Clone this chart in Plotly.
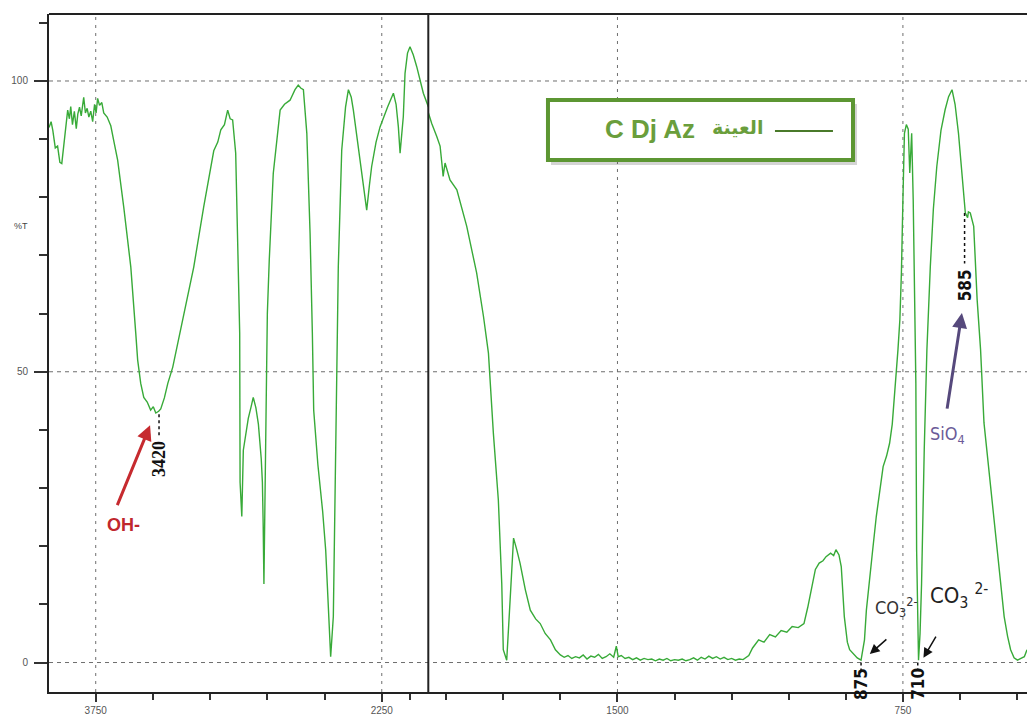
import plotly.graph_objects as go

# ---------------- data ----------------
# Left panel: 4000 - 2000 cm-1 (compressed scale)
LEFT_WN = [3995, 3991, 3984, 3975, 3962, 3950, 3938, 3928, 3918, 3905, 3897, 3888, 3881, 3872,
           3862, 3852, 3844, 3835, 3826, 3813, 3804, 3795, 3786, 3776, 3766, 3756, 3748, 3740,
           3730, 3718, 3708, 3690, 3671, 3654, 3635, 3603, 3566, 3540, 3530, 3514, 3498, 3480,
           3462, 3448, 3435, 3420, 3409, 3390, 3372, 3346, 3320, 3289, 3236, 3184, 3150, 3131,
           3110, 3094, 3075, 3058, 3045, 3032, 3016, 3005, 2995, 2993, 2984, 2976, 2950, 2935,
           2924, 2910, 2897, 2882, 2876, 2872, 2868, 2864, 2860, 2856, 2850, 2840, 2819, 2800,
           2783, 2760, 2731, 2705, 2688, 2675, 2661, 2643, 2626, 2614, 2607, 2585, 2560, 2544,
           2529, 2518, 2504, 2495, 2486, 2478, 2460, 2440, 2425, 2410, 2399, 2380, 2364, 2345,
           2329, 2315, 2303, 2280, 2259, 2220, 2189, 2175, 2163, 2154, 2145, 2137, 2128, 2115,
           2102, 2085, 2067, 2050, 2032, 2006, 2000]
LEFT_T = [92.0, 92.5, 93.0, 91.5, 88.5, 88.8, 86.0, 85.8, 88.5, 93.0, 95.0, 93.5, 95.6, 92.5,
          94.8, 91.8, 94.3, 95.5, 94.0, 97.2, 94.5, 95.3, 93.8, 94.8, 93.0, 96.0, 94.5, 97.0,
          95.8, 96.3, 94.5, 93.8, 92.3, 89.5, 86.4, 78.3, 68.0, 56.6, 52.0, 48.0, 45.6, 44.8,
          43.4, 44.0, 42.9, 43.2, 43.6, 45.5, 48.0, 50.8, 55.0, 59.4, 68.0, 78.3, 85.0, 88.0,
          89.5, 91.6, 92.5, 95.0, 93.5, 93.3, 87.6, 73.8, 56.6, 31.0, 25.1, 36.5, 42.0, 44.0,
          45.6, 43.8, 41.0, 35.0, 31.0, 24.0, 13.5, 24.0, 31.5, 45.0, 60.0, 69.2, 84.1, 90.5,
          95.0, 96.0, 96.7, 98.5, 99.3, 98.8, 98.5, 91.0, 73.8, 56.6, 43.4, 34.0, 26.0, 19.3,
          7.9, 1.0, 7.9, 30.8, 53.7, 68.0, 88.1, 95.5, 98.5, 97.2, 95.0, 90.5, 86.4, 81.5,
          77.8, 82.0, 85.3, 89.5, 92.1, 95.5, 97.9, 96.0, 92.1, 87.6, 91.0, 93.9, 101.3, 104.8,
          105.9, 104.5, 102.5, 100.0, 97.9, 95.6, 95.3]

# Right panel: 2000 - 400 cm-1 (expanded scale)
RIGHT_WN = [2000, 1988, 1975, 1966, 1960, 1958, 1953, 1940, 1922, 1896, 1870, 1852, 1839, 1826,
            1813, 1804, 1800, 1791, 1782, 1777, 1773, 1765, 1756, 1742, 1729, 1715, 1703, 1690,
            1676, 1663, 1650, 1640, 1630, 1620, 1610, 1600, 1590, 1580, 1570, 1560, 1550, 1540,
            1530, 1520, 1510, 1503, 1498, 1490, 1480, 1470, 1460, 1450, 1440, 1430, 1420, 1410,
            1400, 1390, 1380, 1370, 1360, 1350, 1340, 1330, 1320, 1310, 1300, 1290, 1280, 1270,
            1260, 1250, 1240, 1230, 1220, 1210, 1200, 1190, 1180, 1170, 1160, 1155, 1145, 1129,
            1115, 1100, 1085, 1070, 1055, 1041, 1025, 1010, 1000, 990, 980, 970, 960, 952,
            940, 932, 926, 918, 912, 904, 896, 890, 880, 870, 860, 855, 851, 846,
            838, 830, 820, 810, 802, 793, 785, 778, 771, 763, 758, 754, 750, 746,
            741, 736, 732, 727, 723, 718, 716, 714, 711, 709, 705, 701, 694, 687,
            678, 670, 661, 650, 639, 630, 621, 613, 604, 595, 586, 580, 578, 573,
            564, 555, 546, 537, 524, 511, 497, 484, 475, 467, 458, 449, 440, 431, 424]
RIGHT_T = [95.2, 92.7, 90.5, 88.8, 85.0, 83.6, 85.9, 83.0, 81.3, 75.0, 67.0, 59.5, 53.2, 39.4,
           28.0, 13.6, 2.2, 0.4, 10.8, 18.0, 21.4, 19.5, 17.1, 12.5, 9.0, 7.5, 6.7, 5.0,
           3.9, 2.2, 1.3, 0.9, 1.2, 0.7, 1.0, 0.8, 1.3, 0.6, 1.1, 0.9, 1.4, 0.7,
           1.0, 1.5, 0.9, 2.8, 1.0, 1.2, 0.7, 0.9, 0.5, 0.8, 0.4, 0.7, 0.5, 0.6,
           0.3, 0.6, 0.4, 0.7, 0.3, 0.5, 0.4, 0.6, 0.3, 0.5, 0.8, 0.4, 0.9, 0.6,
           1.1, 0.7, 1.0, 0.6, 0.9, 0.5, 0.7, 0.4, 0.6, 0.5, 1.0, 1.2, 2.5, 3.9,
           3.5, 4.8, 4.4, 5.5, 5.2, 6.2, 6.0, 6.7, 9.5, 13.0, 16.0, 17.1, 17.5, 18.2,
           18.8, 18.4, 19.4, 18.5, 16.5, 7.9, 3.5, 2.2, 1.5, 0.8, 0.4, 2.0, 3.9, 9.0,
           13.6, 19.0, 25.1, 30.0, 33.7, 35.5, 37.7, 41.0, 46.3, 53.8, 59.0, 67.0, 79.6, 91.0,
           92.5, 91.7, 84.2, 91.0, 79.6, 56.7, 48.0, 19.4, 5.0, 0.4, 5.0, 13.6, 36.6, 53.8,
           68.1, 78.0, 85.3, 91.5, 95.1, 97.3, 98.5, 96.0, 91.0, 84.0, 77.3, 76.5, 77.5, 77.3,
           75.0, 62.4, 53.8, 41.2, 33.0, 25.1, 16.0, 7.9, 4.5, 2.2, 0.8, 0.4, 0.7, 1.0, 2.2]

# axis ticks
Y_MAJOR = [0, 50, 100]
Y_MINOR = [10, 20, 30, 40, 60, 70, 80, 90, 110]
XL_MAJOR = [3750, 2250]
XL_MINOR = [3450, 3150, 2850, 2550, 2100]
XR_MAJOR = [1500, 750]
XR_MINOR = [1950, 1800, 1650, 1350, 1200, 1050, 900, 600, 450]

# peak labels: (text, wavenumber position, label y, line top, line bottom)
PEAK_3420 = ("3420", 3418, 35.0, 42.7, 38.6)
PEAK_875 = ("875", 860, -3.7, 0.0, -1.3)
PEAK_710 = ("710", 711, -3.7, 0.0, -1.3)
PEAK_585 = ("585", 588, 64.8, 77.3, 68.6)

# ---------------- figure ----------------
W, H = 1027, 716
ML, MR, MT, MB = 49, 0, 14, 24
BREAK_PX = 428.3
D = (BREAK_PX - ML) / (W - ML - MR)

GREEN = "#38aa38"
AXC = "#222222"
GRIDC = "#6e6e6e"
NARROW = "Liberation Sans Narrow, DejaVu Sans Condensed, sans-serif"
TICKFONT = dict(family="Liberation Sans, Arial, sans-serif", size=10, color="#555555")

fig = go.Figure()
fig.add_trace(go.Scatter(x=LEFT_WN, y=LEFT_T, mode="lines", xaxis="x", yaxis="y",
                         line=dict(color=GREEN, width=1.4), showlegend=False, hoverinfo="skip"))
fig.add_trace(go.Scatter(x=RIGHT_WN, y=RIGHT_T, mode="lines", xaxis="x2", yaxis="y",
                         line=dict(color=GREEN, width=1.4), showlegend=False, hoverinfo="skip"))

xcommon = dict(showline=True, linecolor=AXC, linewidth=2, showgrid=False, zeroline=False,
               ticks="outside", ticklen=8, tickwidth=1.5, tickcolor="#333333",
               tickfont=TICKFONT, anchor="y")

fig.update_layout(
    width=W, height=H,
    margin=dict(l=ML, r=MR, t=MT, b=MB),
    paper_bgcolor="white", plot_bgcolor="white",
    xaxis=dict(domain=[0, D], range=[3995, 2006], tickmode="array",
               tickvals=XL_MAJOR, ticktext=[str(v) for v in XL_MAJOR],
               minor=dict(tickvals=XL_MINOR, ticks="outside", ticklen=6, tickcolor="#333333",
                          showgrid=False),
               **xcommon),
    xaxis2=dict(domain=[D, 1], range=[1997, 424], tickmode="array",
                tickvals=XR_MAJOR, ticktext=[str(v) for v in XR_MAJOR],
                minor=dict(tickvals=XR_MINOR, ticks="outside", ticklen=6, tickcolor="#333333",
                           showgrid=False),
                **xcommon),
    yaxis=dict(domain=[0, 1], range=[-5.07, 111.52], tickmode="array",
               tickvals=Y_MAJOR, ticktext=[str(v) for v in Y_MAJOR],
               ticks="outside", ticklen=13, tickwidth=1.5, tickcolor="#333333",
               minor=dict(tickvals=Y_MINOR, ticks="outside", ticklen=8, tickcolor="#333333",
                          showgrid=False),
               showline=True, linecolor=AXC, linewidth=2, showgrid=False, zeroline=False,
               tickfont=TICKFONT, ticklabelstandoff=4),
)

shapes = []
# horizontal dashed grid lines across both panels
for v in Y_MAJOR:
    shapes.append(dict(type="line", xref="paper", yref="y", x0=0, x1=1, y0=v, y1=v,
                       line=dict(color=GRIDC, width=1, dash="4px,4px"), layer="below"))
# vertical dashed grid lines
for v in XL_MAJOR:
    shapes.append(dict(type="line", xref="x", yref="paper", x0=v, x1=v, y0=0, y1=1,
                       line=dict(color=GRIDC, width=1, dash="3px,5px"), layer="below"))
for v in XR_MAJOR:
    shapes.append(dict(type="line", xref="x2", yref="paper", x0=v, x1=v, y0=0, y1=1,
                       line=dict(color=GRIDC, width=1, dash="3px,5px"), layer="below"))
# top border and scale-break line
shapes.append(dict(type="line", xref="paper", yref="paper", x0=0, x1=1, y0=1, y1=1,
                   line=dict(color=AXC, width=2)))
shapes.append(dict(type="line", xref="paper", yref="paper", x0=D, x1=D, y0=0, y1=1,
                   line=dict(color=AXC, width=2)))

# dotted leader lines for peak labels
for (txt, xv, ly, t0, t1), xr in [(PEAK_3420, "x"), (PEAK_875, "x2"), (PEAK_710, "x2"), (PEAK_585, "x2")]:
    shapes.append(dict(type="line", xref=xr, yref="y", x0=xv, x1=xv, y0=t0, y1=t1,
                       line=dict(color="#111111", width=1.5, dash="dot")))

# legend box (shadow + framed box + sample line)
shapes.append(dict(type="rect", xref="paper", yref="paper", x0=0.5133, x1=0.8262, y0=0.7773, y1=0.8673,
                   line=dict(width=0), fillcolor="rgba(60,60,60,0.22)"))
shapes.append(dict(type="rect", xref="paper", yref="paper", x0=0.5102, x1=0.8221, y0=0.7847, y1=0.8732,
                   line=dict(color="#5c9632", width=4), fillcolor="white"))
shapes.append(dict(type="line", xref="paper", yref="paper", x0=0.7423, x1=0.8016, y0=0.8274, y1=0.8274,
                   line=dict(color="#4a7a2a", width=2)))
fig.update_layout(shapes=shapes)

ann = []
# y-axis title
ann.append(dict(xref="paper", yref="y", x=0, y=75, xanchor="right", xshift=-19, showarrow=False,
                text="%T", font=dict(family="Liberation Sans, Arial, sans-serif", size=9, color="#444444")))
# rotated peak labels
ann.append(dict(xref="x", yref="y", x=PEAK_3420[1], y=PEAK_3420[2], text="<b>%s</b>" % PEAK_3420[0],
                textangle=-90, showarrow=False,
                font=dict(family="Liberation Serif, Times New Roman, serif", size=18, color="#111111")))
for txt, xv, ly, t0, t1 in [PEAK_875, PEAK_710, PEAK_585]:
    ann.append(dict(xref="x2", yref="y", x=xv, y=ly, text="<b>%s</b>" % txt, textangle=-90,
                    showarrow=False, font=dict(family=NARROW, size=17, color="#111111")))
# OH- arrow and label
ann.append(dict(xref="x", yref="y", x=3465, y=40.8, axref="x", ayref="y", ax=3640, ay=26.8,
                text="", showarrow=True, arrowhead=2, arrowsize=1, arrowwidth=3, arrowcolor="#c62a2f"))
ann.append(dict(xref="x", yref="y", x=3602, y=23.6, text="<b>OH-</b>", showarrow=False,
                font=dict(family="Liberation Sans, Arial, sans-serif", size=18, color="#c0272d")))
# SiO4 arrow and label
ann.append(dict(xref="x2", yref="y", x=595, y=60.1, axref="x2", ayref="y", ax=634.5, ay=43.4,
                text="", showarrow=True, arrowhead=2, arrowsize=1, arrowwidth=3, arrowcolor="#56497c"))
ann.append(dict(xref="x2", yref="y", x=632, y=39.1, text="SiO<sub>4</sub>", showarrow=False,
                font=dict(family=NARROW, size=18, color="#6b5b98")))
# CO3 labels and small arrows
ann.append(dict(xref="x2", yref="y", x=768, y=9.6, text="CO<sub>3</sub><sup>2-</sup>", showarrow=False,
                font=dict(family=NARROW, size=18, color="#333333")))
ann.append(dict(xref="x2", yref="y", x=602, y=11.4, text="CO<sub>3</sub> <sup>2-</sup>", showarrow=False,
                font=dict(family=NARROW, size=22, color="#222222")))
ann.append(dict(xref="x2", yref="y", x=837, y=1.46, axref="x2", ayref="y", ax=789.5, ay=4.2,
                text="", showarrow=True, arrowhead=2, arrowsize=1.3, arrowwidth=1.5, arrowcolor="#111111"))
ann.append(dict(xref="x2", yref="y", x=696, y=0.8, axref="x2", ayref="y", ax=661, ay=4.7,
                text="", showarrow=True, arrowhead=2, arrowsize=1.3, arrowwidth=1.5, arrowcolor="#111111"))
# legend texts
ann.append(dict(xref="paper", yref="paper", x=0.6626, y=0.8300, xanchor="right", yanchor="middle",
                text="<b>C Dj Az</b>", showarrow=False,
                font=dict(family="Liberation Sans, Arial, sans-serif", size=26, color="#6a9e3c")))
ann.append(dict(xref="paper", yref="paper", x=0.7035, y=0.8340, xanchor="center", yanchor="middle",
                text="<b>العينة</b>", showarrow=False,
                font=dict(family="DejaVu Sans, sans-serif", size=19, color="#6a9e3c")))
fig.update_layout(annotations=ann)

fig.write_html("out.html")
